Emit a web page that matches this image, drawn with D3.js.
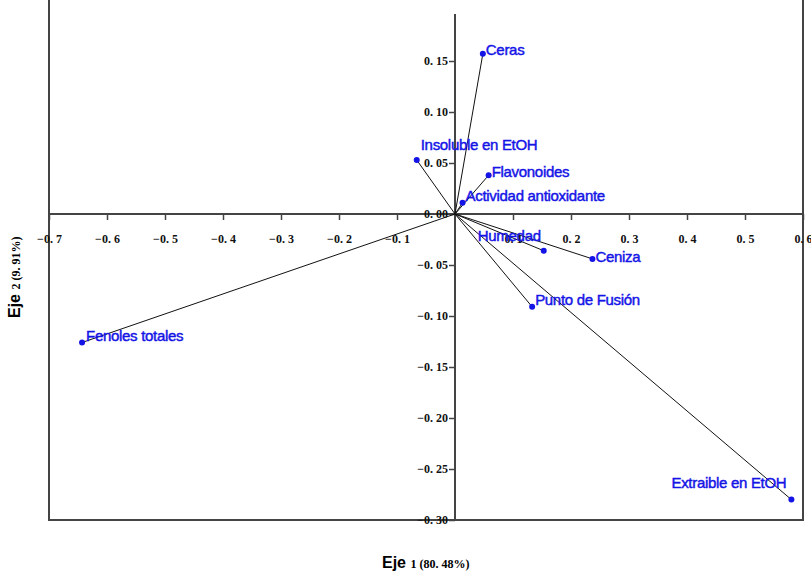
<!DOCTYPE html>
<html>
<head>
<meta charset="utf-8">
<script src="https://cdn.jsdelivr.net/npm/d3@7"></script>
<style>
  body { margin: 0; background: #fff; }
  svg { display: block; }
  .tick text { font-family: "Liberation Serif", "Times New Roman", serif; font-weight: bold; font-size: 12px; fill: #111; }
  .lbl { font-family: "Liberation Sans", Arial, sans-serif; font-size: 15px; fill: #1414e6; stroke: #1414e6; stroke-width: 0.45px; letter-spacing: -0.3px; }
</style>
</head>
<body>
<svg id="chart" width="811" height="572"></svg>
<script>
// variables del biplot (Eje 1, Eje 2)
var names = ['Ceras', 'Insoluble en EtOH', 'Flavonoides', 'Actividad antioxidante', 'Humedad',
             'Ceniza', 'Punto de Fusión', 'Fenoles totales', 'Extraible en EtOH'];
var eje1 = [0.048, -0.066, 0.058, 0.013, 0.153, 0.237, 0.133, -0.643, 0.580];
var eje2 = [0.157, 0.053, 0.038, 0.011, -0.036, -0.044, -0.091, -0.126, -0.280];
var xTicks = [-0.7, -0.6, -0.5, -0.4, -0.3, -0.2, -0.1, 0.1, 0.2, 0.3, 0.4, 0.5, 0.6];
var yTicks = [0.15, 0.10, 0.05, 0.00, -0.05, -0.10, -0.15, -0.20, -0.25, -0.30];

/*desplazamiento de etiquetas: dx, dy, anchor*/
var labelPos = [[3, -4], [4, -15], [3, -3], [3, -7], [-3, -15, 'end'], [3, -2], [3, -7], [4, -7], [-5, -17, 'end']];

var svg = d3.select('#chart');
var x = d3.scaleLinear().domain([-0.7, 0.6]).range([49, 803]);
var y = d3.scaleLinear().domain([-0.3, 0.2]).range([520, 10]);

var fmt = function(d, p) {
    return d3.format('.' + p + 'f')(d).replace('.', '. ').replace('−', '-').replace('-', '\u2212');
};

/*marco*/
var frame = svg.append('g').attr('stroke', '#444').attr('stroke-width', 2).attr('fill', 'none');
frame.append('line').attr('x1', 49).attr('x2', 49).attr('y1', 0).attr('y2', 521);
frame.append('line').attr('x1', 803).attr('x2', 803).attr('y1', 0).attr('y2', 521);
frame.append('line').attr('x1', 48).attr('x2', 804).attr('y1', 520).attr('y2', 520);

/*ejes en cero*/
var xAxis = svg.append('g')
    .attr('transform', 'translate(0,' + y(0) + ')')
    .call(d3.axisBottom(x).tickValues(xTicks).tickSize(6).tickPadding(14).tickFormat(function(d) { return fmt(d, 1); }));
var yAxis = svg.append('g')
    .attr('transform', 'translate(' + x(0) + ',0)')
    .call(d3.axisLeft(y).tickValues(yTicks).tickSize(6).tickPadding(1).tickFormat(function(d) { return fmt(d, 2); }));
[xAxis, yAxis].forEach(function(a) {
    a.select('.domain').attr('stroke', '#444').attr('stroke-width', 2);
    a.selectAll('.tick line').attr('stroke', '#444').attr('stroke-width', 1.5);
});
xAxis.select('.domain').attr('d', 'M49,0H803');
yAxis.select('.domain').attr('d', 'M0,' + y(0.196) + 'V520');

/*vectores*/
var idx = d3.range(names.length);
svg.append('g').selectAll('line').data(idx).enter().append('line')
    .attr('x1', x(0)).attr('y1', y(0))
    .attr('x2', function(i) { return x(eje1[i]); })
    .attr('y2', function(i) { return y(eje2[i]); })
    .attr('stroke', '#111').attr('stroke-width', 1);

svg.append('g').selectAll('circle').data(idx).enter().append('circle')
    .attr('cx', function(i) { return x(eje1[i]); })
    .attr('cy', function(i) { return y(eje2[i]); })
    .attr('r', 3).attr('fill', '#1414e6');

svg.append('g').selectAll('text').data(idx).enter().append('text')
    .attr('class', 'lbl')
    .attr('x', function(i) { return x(eje1[i]) + labelPos[i][0]; })
    .attr('y', function(i) { return y(eje2[i]) + labelPos[i][1]; })
    .attr('dy', '0.35em')
    .attr('text-anchor', function(i) { return labelPos[i][2] || 'start'; })
    .text(function(i) { return names[i]; });

/*titulos de ejes*/
var t1 = svg.append('text').attr('x', 382).attr('y', 568);
t1.append('tspan').attr('font-family', 'Liberation Sans, Arial, sans-serif').attr('font-weight', 'bold').attr('font-size', 16).text('Eje ');
t1.append('tspan').attr('font-family', 'Liberation Serif, serif').attr('font-weight', 'bold').attr('font-size', 12).text('1 (80. 48%)');

var t2 = svg.append('text').attr('transform', 'translate(20,318) rotate(-90)');
t2.append('tspan').attr('font-family', 'Liberation Sans, Arial, sans-serif').attr('font-weight', 'bold').attr('font-size', 16).text('Eje ');
t2.append('tspan').attr('font-family', 'Liberation Serif, serif').attr('font-weight', 'bold').attr('font-size', 12).text('2 (9. 91%)');
</script>
</body>
</html>
